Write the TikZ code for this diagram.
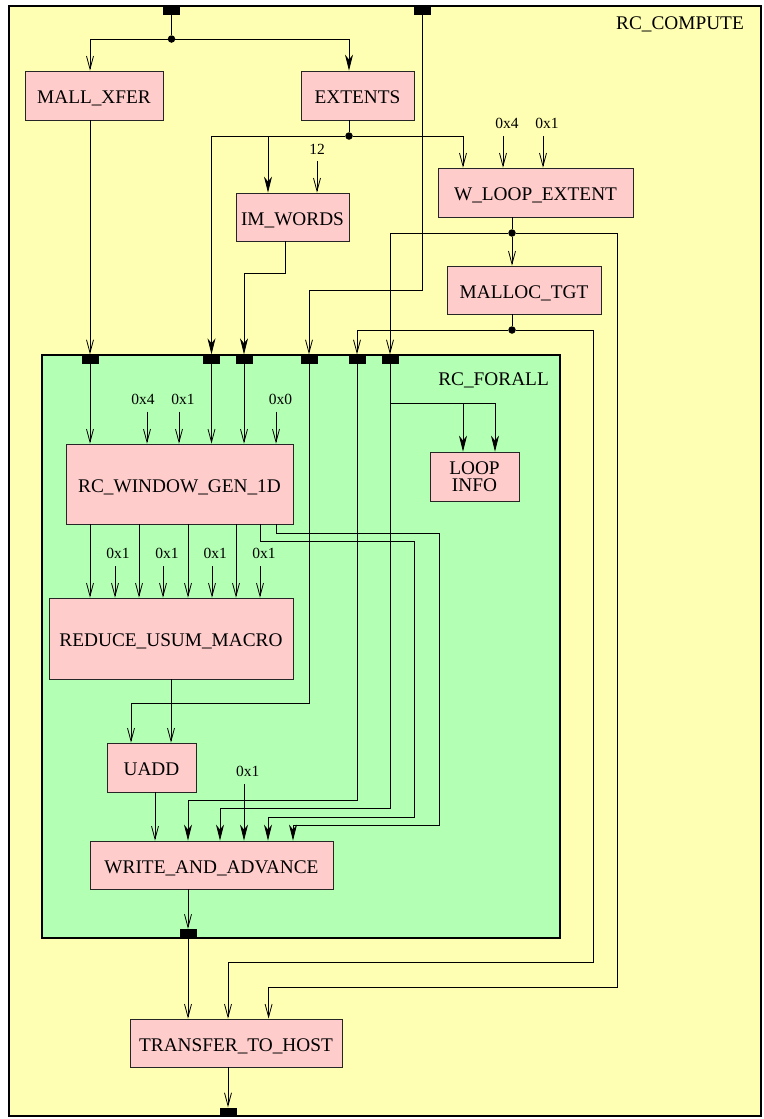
\documentclass[tikz,border=0pt]{standalone}
\usepackage{fontspec}
\setmainfont{Liberation Serif}
\usetikzlibrary{arrows.meta}
\definecolor{yel}{RGB}{255,255,179}
\definecolor{grn}{RGB}{179,255,179}
\definecolor{pnk}{RGB}{255,204,204}
\newcommand{\bxfont}{\fontsize{19.3}{16}\selectfont}
\newcommand{\twofont}{\fontsize{19.3}{17}\selectfont}
\newcommand{\lbfont}{\fontsize{15.5}{17}\selectfont}
\begin{document}
\begin{tikzpicture}[x=1pt,y=-1pt,
  cluster/.style={draw=black, line width=1.3pt, inner sep=0pt},
  ctitle/.style={font=\bxfont, anchor=base east, inner sep=0pt},
  box/.style={draw=black!85, line width=0.8pt, fill=pnk, inner sep=0pt, font=\bxfont},
  tbox/.style={box, text height=16pt, text depth=0pt},
  port/.style={fill=black, draw=none, minimum width=17pt, minimum height=9pt, inner sep=0pt},
  jdot/.style={circle, fill=black, draw=none, inner sep=0pt, minimum size=7.5pt},
  lbl/.style={font=\lbfont, anchor=base, inner sep=0pt},
  wire/.style={line width=0.8pt},
  va/.style={line width=0.8pt, -{Straight Barb[length=13pt,width=7pt]}},
  fa/.style={line width=0.8pt, -{Stealth[length=16pt,width=8pt,inset=5pt]}}]
\useasboundingbox (0,0) rectangle (763,1119);

% clusters
\node[cluster, fill=yel, minimum width=752pt, minimum height=1110pt] (compute) at (385,561) {};
\node[ctitle] (lcompute) at (744,29) {RC\_COMPUTE};
\node[cluster, fill=grn, minimum width=518pt, minimum height=583pt] (forall) at (301,646.5) {};
\node[ctitle] (lforall) at (549,385.5) {RC\_FORALL};

% boxes
\node[tbox, minimum width=138pt, minimum height=49pt] (mall) at (94,95.5) {MALL\_XFER};
\node[tbox, minimum width=113pt, minimum height=49pt] (ext) at (357.5,95.5) {EXTENTS};
\node[tbox, minimum width=113pt, minimum height=48pt] (imw) at (292.5,217) {IM\_WORDS};
\node[tbox, minimum width=195pt, minimum height=49pt] (wloop) at (535.5,192.5) {W\_LOOP\_EXTENT};
\node[tbox, minimum width=154pt, minimum height=48pt] (malloc) at (524,290) {MALLOC\_TGT};
\node[tbox, minimum width=227pt, minimum height=80pt] (rcw) at (179.5,484) {RC\_WINDOW\_GEN\_1D};
\node[tbox, minimum width=244pt, minimum height=81pt] (reduce) at (171,638.5) {REDUCE\_USUM\_MACRO};
\node[tbox, minimum width=89pt, minimum height=49pt] (uadd) at (151.5,767.5) {UADD};
\node[tbox, minimum width=243pt, minimum height=48pt] (waa) at (211.5,865) {WRITE\_AND\_ADVANCE};
\node[box, font=\twofont, minimum width=89pt, minimum height=49pt, align=center] (loop) at (474.5,476.5) {LOOP\\INFO};
\node[tbox, minimum width=212pt, minimum height=48pt] (tth) at (236,1043) {TRANSFER\_TO\_HOST};

% ports
\node[port] (top1) at (171.5,10.5) {};
\node[port] (top2) at (422.5,10.5) {};
\node[port] (f1) at (90,359) {};
\node[port] (f2) at (211.5,359) {};
\node[port] (f3) at (244,359) {};
\node[port] (f4) at (309,359) {};
\node[port] (f5) at (357,359) {};
\node[port] (f6) at (390,359) {};
\node[port] (fout) at (188,933.5) {};
\node[port] (bot) at (228,1112) {};

% junctions
\node[jdot] (d1) at (171.5,39) {};
\node[jdot] (d2) at (349,136) {};
\node[jdot] (d3) at (512,233) {};
\node[jdot] (d4) at (512,330) {};

% bend coordinates
\coordinate (j3) at (285,273);
\coordinate (b4) at (309,290);
\coordinate (b7) at (617,987);
\coordinate (b8) at (593,962);
\coordinate (b10) at (131,703);
\coordinate (b11) at (188,800);
\coordinate (b12) at (220,808);
\coordinate (jl) at (390,403);
\coordinate (b14a) at (414,541);
\coordinate (b14b) at (268,817);
\coordinate (b15a) at (439,533);
\coordinate (b15b) at (293,825);

% constant labels and their arrow starts
\node[lbl] (k12) at (317,154) {12};
\coordinate (a12) at (317,161);
\node[lbl] (kw4) at (507,128.3) {0x4};
\coordinate (aw4) at (503,136);
\node[lbl] (kw1) at (547,128.3) {0x1};
\coordinate (aw1) at (543,136);
\node[lbl] (kf4) at (143,404.3) {0x4};
\coordinate (af4) at (147,411.7);
\node[lbl] (kf1) at (183,404.3) {0x1};
\coordinate (af1) at (179,411.7);
\node[lbl] (kf0) at (280.5,404.3) {0x0};
\coordinate (af0) at (276,411.7);
\node[lbl] (kr1) at (118,558.7) {0x1};
\coordinate (ar1) at (115,566);
\node[lbl] (kr2) at (167,558.7) {0x1};
\coordinate (ar2) at (163,566);
\node[lbl] (kr3) at (215.3,558.7) {0x1};
\coordinate (ar3) at (212,566);
\node[lbl] (kr4) at (264,558.7) {0x1};
\coordinate (ar4) at (260,566);
\node[lbl] (kwa) at (247.7,776.7) {0x1};
\coordinate (awa) at (244,784.3);

% connectors: top level
\draw[wire] (top1.south) -- (d1);
\draw[va] (d1) -| ([xshift=-4pt]mall.north);
\draw[fa] (d1) -| ([xshift=-8.5pt]ext.north);
\draw[wire] ([xshift=-8.5pt]ext.south) -- (d2);
\draw[fa] (d2) -| (f2.north);
\draw[fa] (d2) -| ([xshift=-24.5pt]imw.north);
\draw[va] (d2) -| ([xshift=-72.5pt]wloop.north);
\draw[va] (a12) -- ([xshift=24.5pt]imw.north);
\draw[va] (aw4) -- ([xshift=-32.5pt]wloop.north);
\draw[va] (aw1) -- ([xshift=7.5pt]wloop.north);
\draw[va] ([xshift=-4pt]mall.south) -- (f1.north);
\draw[fa] ([xshift=-7.5pt]imw.south) -- (j3) -| (f3.north);
\draw[va] (top2.south) |- (b4) -- (f4.north);
\draw[wire] ([xshift=-23.5pt]wloop.south) -- (d3);
\draw[va] (d3) -| (f6.north);
\draw[va] (d3) -- ([xshift=-12pt]malloc.north);
\draw[va] (d3) -| (b7) -| ([xshift=32.6pt]tth.north);
\draw[wire] ([xshift=-12pt]malloc.south) -- (d4);
\draw[va] (d4) -| (f5.north);
\draw[va] (d4) -| (b8) -| ([xshift=-8pt]tth.north);

% connectors inside RC_FORALL
\draw[va] (f1.south) -- ([xshift=-89.5pt]rcw.north);
\draw[va] (f2.south) -- ([xshift=32pt]rcw.north);
\draw[va] (f3.south) -- ([xshift=64.5pt]rcw.north);
\draw[va] (af4) -- ([xshift=-32.5pt]rcw.north);
\draw[va] (af1) -- ([xshift=-0.5pt]rcw.north);
\draw[va] (af0) -- ([xshift=96.5pt]rcw.north);
\draw[va] (f4.south) |- (b10) -- ([xshift=-20.5pt]uadd.north);
\draw[fa] (f5.south) |- (b11) -- ([xshift=-23.5pt]waa.north);
\draw[fa] (f6.south) |- (b12) -- ([xshift=8.5pt]waa.north);
\draw[fa] (jl) -| ([xshift=-11.5pt]loop.north);
\draw[fa] (jl) -| ([xshift=20.5pt]loop.north);
\draw[va] ([xshift=-89.5pt]rcw.south) -- ([xshift=-81pt]reduce.north);
\draw[va] ([xshift=-40.5pt]rcw.south) -- ([xshift=-32pt]reduce.north);
\draw[va] ([xshift=8.5pt]rcw.south) -- ([xshift=17pt]reduce.north);
\draw[va] ([xshift=56.5pt]rcw.south) -- ([xshift=65pt]reduce.north);
\draw[va] (ar1) -- ([xshift=-56pt]reduce.north);
\draw[va] (ar2) -- ([xshift=-8pt]reduce.north);
\draw[va] (ar3) -- ([xshift=41pt]reduce.north);
\draw[va] (ar4) -- ([xshift=89pt]reduce.north);
\draw[fa] ([xshift=80.5pt]rcw.south) |- (b14a) |- (b14b) -- ([xshift=56.5pt]waa.north);
\draw[fa] ([xshift=96.5pt]rcw.south) |- (b15a) |- (b15b) -- ([xshift=81.5pt]waa.north);
\draw[va] (reduce.south) -- ([xshift=19.5pt]uadd.north);
\draw[va] ([xshift=3.5pt]uadd.south) -- ([xshift=-56.5pt]waa.north);
\draw[fa] (awa) -- ([xshift=32.5pt]waa.north);
\draw[va] ([xshift=-23.5pt]waa.south) -- (fout.north);

% bottom
\draw[va] (fout.south) -- ([xshift=-48pt]tth.north);
\draw[va] ([xshift=-8pt]tth.south) -- (bot.north);
\end{tikzpicture}
\end{document}
